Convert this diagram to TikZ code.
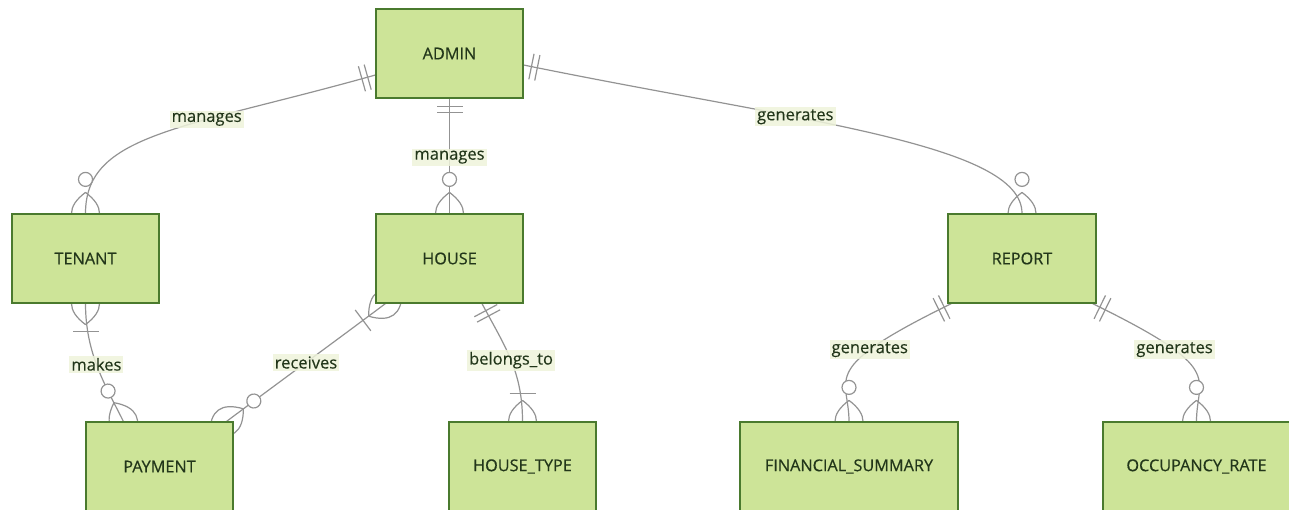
\documentclass[tikz,border=0pt]{standalone}
\usepackage{fontspec}
\setmainfont{Open Sans}
\newfontfamily\entfont[FakeBold=0.5]{Open Sans}
\newfontfamily\lblfont[FakeBold=0.25]{Open Sans}
\usetikzlibrary{calc,backgrounds}
\definecolor{boxfill}{HTML}{CDE498}
\definecolor{boxdraw}{HTML}{4A7A2E}
\definecolor{edgec}{HTML}{939393}
\definecolor{lblbg}{HTML}{EEF3DA}
\definecolor{txtc}{HTML}{22361A}
\tikzset{
  entity/.style={draw=boxdraw, fill=boxfill, line width=0.9pt, inner sep=0pt,
    minimum height=66.75pt, text=txtc, font=\entfont\fontsize{12.2}{14}\selectfont},
  lbl/.style={fill=lblbg, fill opacity=0.85, text opacity=1, text=txtc,
    inner sep=1.5pt, font=\lblfont\fontsize{12.4}{14}\selectfont},
  rel/.style={draw=edgec, line width=0.9pt},
  one2/.pic={\draw[rel] (8,-13) -- (8,13) (14,-13) -- (14,13);},
  zmany/.pic={\draw[rel] (21,0) .. controls (7,18.67) and (-7,18.67) .. (-21,0)
      .. controls (-7,-18.67) and (7,-18.67) .. (21,0);
    \draw[rel,fill=white] (34,0) circle[radius=7];},
  omany/.pic={\draw[rel] (21,0) .. controls (7,18.67) and (-7,18.67) .. (-21,0)
      .. controls (-7,-18.67) and (7,-18.67) .. (21,0);
    \draw[rel] (28,-13) -- (28,13);}
}
\begin{document}
\begin{tikzpicture}[x=0.75pt,y=-0.75pt]
\useasboundingbox (0,0) rectangle (1289,510);
\node[entity, minimum width=110.25pt] (admin) at (449.5,53.5) {ADMIN};
\node[entity, minimum width=110.25pt] (tenant) at (85.5,258.5) {TENANT};
\node[entity, minimum width=110.25pt] (house) at (449.5,258.5) {HOUSE};
\node[entity, minimum width=111pt] (report) at (1022,258.5) {REPORT};
\node[entity, minimum width=110.25pt] (payment) at (159.5,466.5) {PAYMENT};
\node[entity, minimum width=110.25pt] (housetype) at (522.5,466.5) {HOUSE\_TYPE};
\node[entity, minimum width=163.5pt] (fin) at (849,466.5) {FINANCIAL\_SUMMARY};
\node[entity, minimum width=140.25pt] (occ) at (1196.5,466.5) {OCCUPANCY\_RATE};

\coordinate (a1) at ($(admin.west)+(0,21.5)$);
\coordinate (a3) at ($(admin.east)+(0,11.5)$);
\coordinate (p1) at ($(payment.north west)+(38,0)$);
\coordinate (h1) at ($(house.south west)+(10,0)$);
\coordinate (p2) at ($(payment.north east)+(-7,0)$);
\coordinate (h2) at ($(house.south)+(32.5,0)$);
\coordinate (r1) at ($(report.south west)+(4,0)$);
\coordinate (r2) at ($(report.south east)+(-4,0)$);

\begin{pgfonlayer}{background}
\draw[rel] (a1) .. controls +(-192,54) and +(0,-80) .. (tenant.north) node[lbl,pos=0.355]{manages};
\path (a1) pic[rotate=-164.3]{one2};
\path (tenant.north) pic[rotate=90]{zmany};

\draw[rel] (admin.south) -- (house.north) node[lbl,pos=0.51]{manages};
\path (admin.south) pic[rotate=-90]{one2};
\path (house.north) pic[rotate=90]{zmany};

\draw[rel] (a3) .. controls +(274,56) and +(0,-70) .. (report.north) node[lbl,pos=0.365]{generates};
\path (a3) pic[rotate=-11.5]{one2};
\path (report.north) pic[rotate=90]{zmany};

\draw[rel] (tenant.south) .. controls +(0,50) and +(-18,-36) .. (p1) node[lbl,pos=0.47]{makes};
\path (tenant.south) pic[rotate=-90]{omany};
\path (p1) pic[rotate=116.8]{zmany};

\draw[rel] (h1) .. controls +(-48,36) and +(48,-36) .. (p2) node[lbl,pos=0.5]{receives};
\path (h1) pic[rotate=-143.13]{omany};
\path (p2) pic[rotate=36.87]{zmany};

\draw[rel] (h2) .. controls +(23.5,44) and +(0,-50) .. (housetype.north) node[lbl,pos=0.5]{belongs\_to};
\path (h2) pic[rotate=-61.9]{one2};
\path (housetype.north) pic[rotate=90]{omany};

\draw[rel] (r1) .. controls +(-135,66) and +(0,-45) .. (fin.north) node[lbl,pos=0.3]{generates};
\path (r1) pic[rotate=-153.9]{one2};
\path (fin.north) pic[rotate=90]{zmany};

\draw[rel] (r2) .. controls +(135,66) and +(0,-45) .. (occ.north) node[lbl,pos=0.3]{generates};
\path (r2) pic[rotate=-26.1]{one2};
\path (occ.north) pic[rotate=90]{zmany};
\end{pgfonlayer}
\end{tikzpicture}
\end{document}
